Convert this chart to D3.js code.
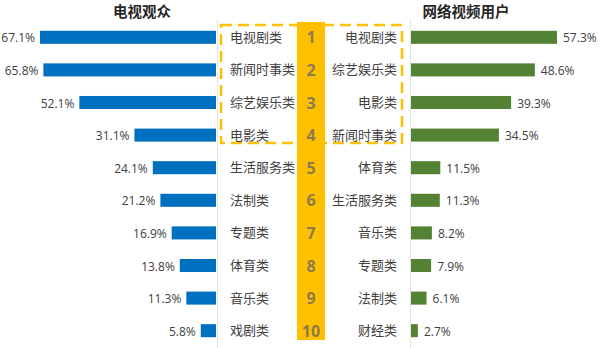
<!DOCTYPE html>
<html><head><meta charset="utf-8">
<script src="https://cdn.jsdelivr.net/npm/d3@7"></script>
<style>
html,body{margin:0;padding:0;background:#fff;}
svg{display:block;font-family:"Noto Sans CJK SC","Noto Sans",sans-serif;}
</style></head>
<body><svg id="chart" width="600" height="348"></svg>
<script>
const ranks = ["1","2","3","4","5","6","7","8","9","10"];
const tvCategories = ["电视剧类","新闻时事类","综艺娱乐类","电影类","生活服务类","法制类","专题类","体育类","音乐类","戏剧类"];
const tvValues = [67.1,65.8,52.1,31.1,24.1,21.2,16.9,13.8,11.3,5.8];
const webCategories = ["电视剧类","综艺娱乐类","电影类","新闻时事类","体育类","生活服务类","音乐类","专题类","法制类","财经类"];
const webValues = [57.3,48.6,39.3,34.5,11.5,11.3,8.2,7.9,6.1,2.7];
const titles = ["电视观众","网络视频用户"];

const svg = d3.select("#chart");
const y = d3.scaleBand().domain(ranks).range([21,347]).paddingInner(0.6).paddingOuter(0.3);
const xL = d3.scaleLinear().domain([0,67.1]).range([216,40]);
const xR = d3.scaleLinear().domain([0,57.3]).range([411,557]);
const cy = r => y(r) + y.bandwidth()/2;
const txt = "#404040";

// axis lines
svg.append("line").attr("x1",217.5).attr("x2",217.5).attr("y1",20).attr("y2",348).attr("stroke","#e3e3e3").attr("stroke-width",1);
svg.append("line").attr("x1",410.5).attr("x2",410.5).attr("y1",20).attr("y2",348).attr("stroke","#e3e3e3").attr("stroke-width",1);

// dashed highlight box
svg.append("rect").attr("x",221).attr("y",25).attr("width",181).attr("height",118)
  .attr("fill","none").attr("stroke","#FFC000").attr("stroke-width",2.5).attr("stroke-dasharray","11,6");

// orange strip
svg.append("rect").attr("x",297).attr("y",22).attr("width",28).attr("height",318).attr("fill","#FFC000");

// titles
svg.append("text").attr("x",142).attr("y",17).attr("text-anchor","middle").attr("font-size",14.5).attr("font-weight","bold").attr("fill","#262626").text(titles[0]);
svg.append("text").attr("x",466).attr("y",17).attr("text-anchor","middle").attr("font-size",14.5).attr("font-weight","bold").attr("fill","#262626").text(titles[1]);

// left bars
svg.selectAll(".lb").data(tvValues).join("rect").attr("class","lb")
  .attr("x",d=>xL(d)).attr("y",(d,i)=>y(ranks[i])).attr("width",d=>xL(0)-xL(d)).attr("height",y.bandwidth()).attr("fill","#0070C0");
svg.selectAll(".ll").data(tvValues).join("text").attr("class","ll")
  .attr("x",d=>xL(d)-5).attr("y",(d,i)=>cy(ranks[i])+5).attr("text-anchor","end")
  .attr("font-size",12).attr("font-family","'Open Sans','Noto Sans',sans-serif").attr("fill",txt).text(d=>d.toFixed(1)+"%");
svg.selectAll(".lc").data(tvCategories).join("text").attr("class","lc")
  .attr("x",230).attr("y",(d,i)=>cy(ranks[i])+4.5).attr("font-size",13).attr("fill",txt).text(d=>d);

// right bars
svg.selectAll(".rb").data(webValues).join("rect").attr("class","rb")
  .attr("x",xR(0)).attr("y",(d,i)=>y(ranks[i])).attr("width",d=>xR(d)-xR(0)).attr("height",y.bandwidth()).attr("fill","#548235");
svg.selectAll(".rl").data(webValues).join("text").attr("class","rl")
  .attr("x",d=>xR(d)+6).attr("y",(d,i)=>cy(ranks[i])+5)
  .attr("font-size",12).attr("font-family","'Open Sans','Noto Sans',sans-serif").attr("fill",txt).text(d=>d.toFixed(1)+"%");
svg.selectAll(".rc").data(webCategories).join("text").attr("class","rc")
  .attr("x",397).attr("y",(d,i)=>cy(ranks[i])+4.5).attr("text-anchor","end").attr("font-size",13).attr("fill",txt).text(d=>d);

// rank numbers
svg.selectAll(".rk").data(ranks).join("text").attr("class","rk")
  .attr("x",311).attr("y",d=>cy(d)+6).attr("text-anchor","middle")
  .attr("font-size",16).attr("font-weight","bold").attr("font-family","'Open Sans','Noto Sans',sans-serif").attr("fill","#8c7b4c").text(d=>d);
</script></body></html>
